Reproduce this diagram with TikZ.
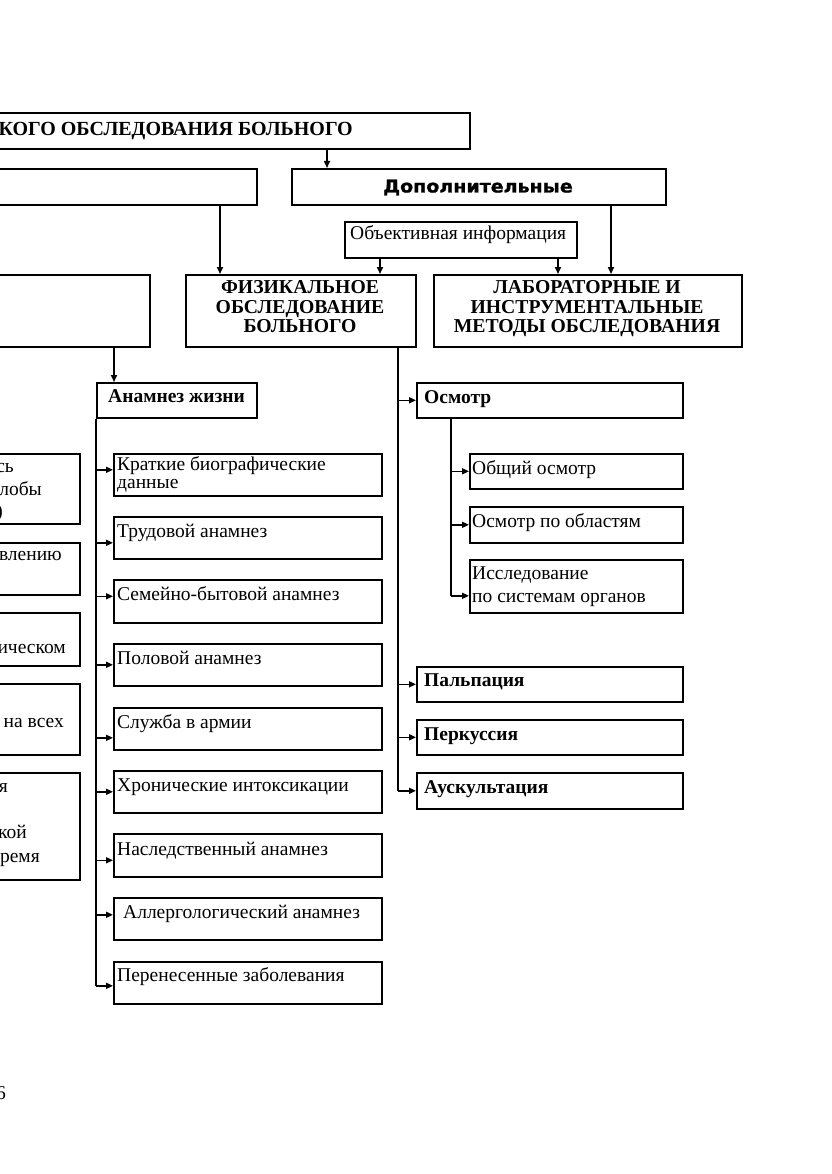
\documentclass[tikz,border=0pt]{standalone}
\usepackage{fontspec}
\setmainfont{Liberation Serif}
\newfontfamily\dopfont[FakeStretch=1.08,FakeBold=1.2]{DejaVu Sans}
\usetikzlibrary{arrows.meta,calc}
\tikzset{
  box/.style={draw, line width=1.6pt, inner sep=0pt, anchor=north west},
  ln/.style={line width=1.6pt},
  arr/.style={line width=1.6pt, -{Triangle[length=7pt,width=6pt]}},
  txt/.style={anchor=base west, inner sep=0pt, font=\fontsize{19.5}{20}\selectfont},
  btxt/.style={anchor=base west, inner sep=0pt, font=\fontsize{19.5}{20}\selectfont\bfseries},
  ctxt/.style={anchor=base, inner sep=0pt, font=\fontsize{19.7}{20}\selectfont\bfseries},
  etxt/.style={anchor=base east, inner sep=0pt, font=\fontsize{19.5}{20}\selectfont},
}
\newcommand\mybox[5]{\node[box, minimum width=#4pt, minimum height=#5pt] (#1) at (#2,#3) {};}
\begin{document}
\begin{tikzpicture}[x=1pt,y=-1pt]
\useasboundingbox (0,0) rectangle (831,1174);
\fill[white] (0,0) rectangle (831,1174);
\clip (0,0) rectangle (831,1174);
% boxes
\mybox{top}{-10}{112}{479}{36}
\mybox{gen}{-10}{168}{266}{36}
\mybox{dop}{291}{168}{374}{36}
\mybox{obj}{344}{221}{232}{36}
\mybox{anam}{-10}{274}{159}{72}
\mybox{fiz}{185}{274}{230}{72}
\mybox{lab}{433}{274}{308}{72}
\mybox{zh}{96}{382}{160}{35}
\mybox{k1}{113}{453}{268}{42}
\mybox{k2}{113}{516}{268}{42}
\mybox{k3}{113}{579}{268}{43}
\mybox{k4}{113}{643}{268}{42}
\mybox{k5}{113}{707}{268}{42}
\mybox{k6}{113}{770}{268}{42}
\mybox{k7}{113}{833}{268}{43}
\mybox{k8}{113}{897}{268}{42}
\mybox{k9}{113}{961}{268}{42}
\mybox{osm}{416}{382}{266}{35}
\mybox{o1}{469}{453}{213}{35}
\mybox{o2}{469}{506}{213}{36}
\mybox{o3}{469}{559}{213}{53}
\mybox{pal}{416}{666}{266}{35}
\mybox{per}{416}{719}{266}{35}
\mybox{aus}{416}{772}{266}{36}
\mybox{c1}{-10}{453}{89}{70}
\mybox{c2}{-10}{542}{89}{52}
\mybox{c3}{-10}{612}{89}{53}
\mybox{c4}{-10}{683}{89}{71}
\mybox{c5}{-10}{772}{89}{107}
% x positions of connectors
\coordinate (xa) at (327,0);
\coordinate (xb) at (220,0);
\coordinate (xc) at (380,0);
\coordinate (xd) at (558,0);
\coordinate (xe) at (611,0);
\coordinate (xf) at (114,0);
\coordinate (xg) at (398,0);
\coordinate (xh) at (451,0);
% connectors
\draw[arr] (top.south -| xa) -- (dop.north -| xa);
\draw[arr] (gen.south -| xb) -- (fiz.north -| xb);
\draw[arr] (obj.south -| xc) -- (fiz.north -| xc);
\draw[arr] (obj.south -| xd) -- (lab.north -| xd);
\draw[arr] (dop.south -| xe) -- (lab.north -| xe);
\draw[arr] (anam.south -| xf) -- (zh.north -| xf);
% right trunk
\draw[ln] (fiz.south -| xg) -- (aus.west -| xg);
\foreach \n in {osm,pal,per,aus}{\draw[arr] (\n.west -| xg) -- (\n.west);}
% osmotr trunk
\draw[ln] (osm.south -| xh) -- ([yshift=-9.5pt]o3.west -| xh);
\draw[arr] (o1.west -| xh) -- (o1.west);
\draw[arr] (o2.west -| xh) -- (o2.west);
\draw[arr] ([yshift=-9.5pt]o3.west -| xh) -- ([yshift=-9.5pt]o3.west);
% left trunk
\draw[ln] (zh.south west) -- ([yshift=-3pt]k9.west -| zh.south west);
\foreach \n/\s in {k1/5,k2/-5,k3/5,k4/0,k5/-9,k6/0,k7/-5,k8/4,k9/-3}{
  \draw[arr] ([yshift=\s pt]\n.west -| zh.south west) -- ([yshift=\s pt]\n.west);}
% texts
\node[etxt, font=\fontsize{20}{20}\selectfont\bfseries] at (353,136) {КОГО ОБСЛЕДОВАНИЯ БОЛЬНОГО};
\node[anchor=base, inner sep=0pt, font=\dopfont\bfseries\fontsize{17.6}{18}\selectfont] at (478,192.5) {Дополнительные};
\node[txt] at (350,240) {Объективная информация};
\node[ctxt] at (300,293) {ФИЗИКАЛЬНОЕ};
\node[ctxt] at (300,313) {ОБСЛЕДОВАНИЕ};
\node[ctxt] at (300,332) {БОЛЬНОГО};
\node[ctxt] at (587,293) {ЛАБОРАТОРНЫЕ И};
\node[ctxt] at (587,313) {ИНСТРУМЕНТАЛЬНЫЕ};
\node[ctxt] at (587,332) {МЕТОДЫ ОБСЛЕДОВАНИЯ};
\node[btxt] at (108,402) {Анамнез жизни};
\node[txt] at (117,470.5) {Краткие биографические};
\node[txt] at (117,488.5) {данные};
\node[txt] at (117,537) {Трудовой анамнез};
\node[txt] at (117,600) {Семейно-бытовой анамнез};
\node[txt] at (117,664) {Половой анамнез};
\node[txt] at (117,728.5) {Служба в армии};
\node[txt] at (117,791.5) {Хронические интоксикации};
\node[txt] at (117,855) {Наследственный анамнез};
\node[txt] at (123,918.5) {Аллергологический анамнез};
\node[txt] at (117,981.5) {Перенесенные заболевания};
\node[btxt] at (424,403) {Осмотр};
\node[txt] at (472,474) {Общий осмотр};
\node[txt] at (472,527) {Осмотр по областям};
\node[txt] at (472,579) {Исследование};
\node[txt] at (472,602) {по системам органов};
\node[btxt] at (424,686.5) {Пальпация};
\node[btxt] at (424,740) {Перкуссия};
\node[btxt] at (424,793) {Аускультация};
% cut texts at the left edge
\node[etxt] at (14,472) {сь};
\node[etxt] at (42,495) {лобы};
\node[etxt] at (3,517) {)};
\node[etxt] at (62,560) {влению};
\node[etxt] at (66,653) {ическом};
\node[etxt] at (64,727) {на всех};
\node[etxt] at (8,792) {я};
\node[etxt] at (27,838) {кой};
\node[etxt] at (40,862) {ремя};
\node[etxt] at (6,1099) {6};
\end{tikzpicture}
\end{document}
